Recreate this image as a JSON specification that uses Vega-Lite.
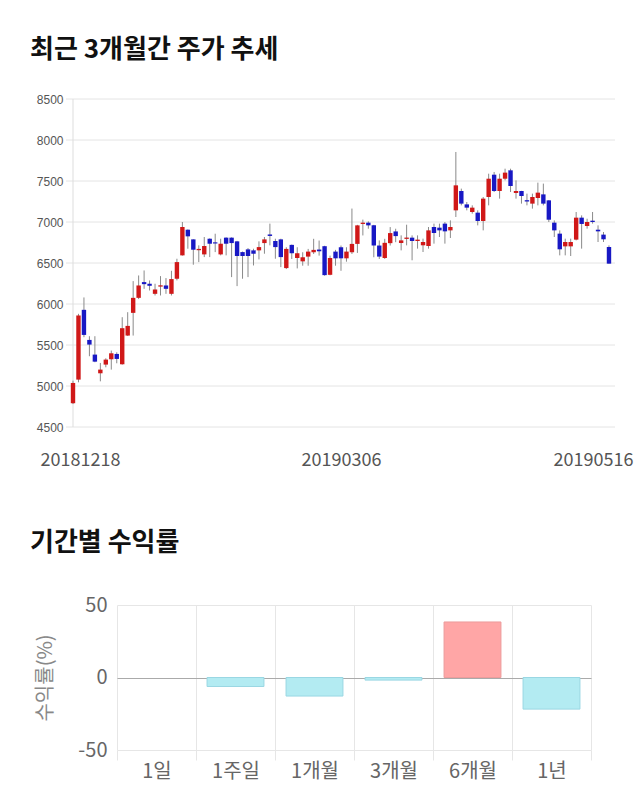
{
  "$schema": "https://vega.github.io/schema/vega-lite/v6.json",
  "background": "white",
  "padding": {"left": 30, "top": 37, "right": 0, "bottom": 0},
  "config": {"view": {"stroke": null}, "font": "Noto Sans CJK KR"},
  "spacing": 61,
  "columns": 1,
  "align": "none",
  "concat": [
    {
      "title": {"text": "최근 3개월간 주가 추세", "anchor": "start", "frame": "group", "dx": -87, "fontSize": 26, "fontWeight": "bold", "color": "#111111", "offset": 30},
      "width": 498,
      "height": 328,
      "data": {"values": [
        {"i":0,"o":4790,"h":5065,"l":4780,"c":5037},
        {"i":1,"o":5078,"h":5880,"l":5045,"c":5860},
        {"i":2,"o":5929,"h":6080,"l":5595,"c":5623},
        {"i":3,"o":5562,"h":5607,"l":5363,"c":5505},
        {"i":4,"o":5383,"h":5607,"l":5290,"c":5297},
        {"i":5,"o":5155,"h":5281,"l":5057,"c":5200},
        {"i":6,"o":5261,"h":5338,"l":5228,"c":5322},
        {"i":7,"o":5326,"h":5432,"l":5200,"c":5399},
        {"i":8,"o":5391,"h":5411,"l":5277,"c":5330},
        {"i":9,"o":5265,"h":5839,"l":5260,"c":5705},
        {"i":10,"o":5615,"h":5900,"l":5610,"c":5733},
        {"i":11,"o":5892,"h":6279,"l":5615,"c":6075},
        {"i":12,"o":6075,"h":6348,"l":6060,"c":6226},
        {"i":13,"o":6267,"h":6409,"l":6185,"c":6242},
        {"i":14,"o":6247,"h":6287,"l":6165,"c":6222},
        {"i":15,"o":6124,"h":6247,"l":6104,"c":6177},
        {"i":16,"o":6212,"h":6340,"l":6104,"c":6228},
        {"i":17,"o":6226,"h":6316,"l":6124,"c":6185},
        {"i":18,"o":6124,"h":6405,"l":6104,"c":6304},
        {"i":19,"o":6308,"h":6552,"l":6288,"c":6511},
        {"i":20,"o":6593,"h":7000,"l":6590,"c":6939},
        {"i":21,"o":6906,"h":6910,"l":6674,"c":6825},
        {"i":22,"o":6788,"h":6790,"l":6479,"c":6662},
        {"i":23,"o":6656,"h":6715,"l":6511,"c":6672},
        {"i":24,"o":6605,"h":6817,"l":6572,"c":6707},
        {"i":25,"o":6796,"h":6800,"l":6572,"c":6735},
        {"i":26,"o":6752,"h":6857,"l":6633,"c":6738},
        {"i":27,"o":6605,"h":6796,"l":6593,"c":6735},
        {"i":28,"o":6809,"h":6813,"l":6593,"c":6735},
        {"i":29,"o":6809,"h":6813,"l":6328,"c":6743},
        {"i":30,"o":6764,"h":6770,"l":6218,"c":6585},
        {"i":31,"o":6633,"h":6640,"l":6308,"c":6585},
        {"i":32,"o":6666,"h":6682,"l":6328,"c":6585},
        {"i":33,"o":6654,"h":6674,"l":6470,"c":6613},
        {"i":34,"o":6654,"h":6764,"l":6544,"c":6694},
        {"i":35,"o":6743,"h":6817,"l":6613,"c":6788},
        {"i":36,"o":6848,"h":6980,"l":6715,"c":6830},
        {"i":37,"o":6768,"h":6796,"l":6552,"c":6694},
        {"i":38,"o":6788,"h":6796,"l":6450,"c":6572},
        {"i":39,"o":6438,"h":6692,"l":6426,"c":6672},
        {"i":40,"o":6721,"h":6725,"l":6549,"c":6619},
        {"i":41,"o":6561,"h":6692,"l":6434,"c":6619},
        {"i":42,"o":6520,"h":6631,"l":6467,"c":6570},
        {"i":43,"o":6578,"h":6672,"l":6467,"c":6639},
        {"i":44,"o":6631,"h":6795,"l":6610,"c":6660},
        {"i":45,"o":6664,"h":6774,"l":6590,"c":6643},
        {"i":46,"o":6705,"h":6710,"l":6345,"c":6352},
        {"i":47,"o":6356,"h":6590,"l":6350,"c":6561},
        {"i":48,"o":6639,"h":6660,"l":6467,"c":6557},
        {"i":49,"o":6692,"h":6713,"l":6405,"c":6557},
        {"i":50,"o":6557,"h":6692,"l":6516,"c":6639},
        {"i":51,"o":6631,"h":7164,"l":6610,"c":6733},
        {"i":52,"o":6733,"h":6965,"l":6623,"c":6959},
        {"i":53,"o":6976,"h":7029,"l":6836,"c":6992},
        {"i":54,"o":6992,"h":7008,"l":6918,"c":6959},
        {"i":55,"o":6959,"h":6965,"l":6570,"c":6713},
        {"i":56,"o":6713,"h":6775,"l":6549,"c":6578},
        {"i":57,"o":6561,"h":6795,"l":6549,"c":6746},
        {"i":58,"o":6742,"h":6938,"l":6713,"c":6865},
        {"i":59,"o":6885,"h":6918,"l":6754,"c":6828},
        {"i":60,"o":6744,"h":6837,"l":6654,"c":6776},
        {"i":61,"o":6794,"h":6967,"l":6715,"c":6810},
        {"i":62,"o":6809,"h":6837,"l":6533,"c":6768},
        {"i":63,"o":6768,"h":6837,"l":6675,"c":6785},
        {"i":64,"o":6716,"h":6797,"l":6634,"c":6756},
        {"i":65,"o":6707,"h":6939,"l":6675,"c":6898},
        {"i":66,"o":6939,"h":6980,"l":6736,"c":6866},
        {"i":67,"o":6931,"h":6980,"l":6817,"c":6898},
        {"i":68,"o":6980,"h":7000,"l":6736,"c":6886},
        {"i":69,"o":6898,"h":7020,"l":6805,"c":6939},
        {"i":70,"o":7142,"h":7854,"l":7061,"c":7447},
        {"i":71,"o":7378,"h":7407,"l":7203,"c":7224},
        {"i":72,"o":7215,"h":7244,"l":7142,"c":7175},
        {"i":73,"o":7122,"h":7203,"l":7102,"c":7175},
        {"i":74,"o":7114,"h":7142,"l":6959,"c":7012},
        {"i":75,"o":7012,"h":7305,"l":6898,"c":7285},
        {"i":76,"o":7305,"h":7589,"l":7203,"c":7528},
        {"i":77,"o":7577,"h":7610,"l":7366,"c":7378},
        {"i":78,"o":7378,"h":7589,"l":7285,"c":7528},
        {"i":79,"o":7528,"h":7650,"l":7508,"c":7602},
        {"i":80,"o":7630,"h":7650,"l":7366,"c":7439},
        {"i":81,"o":7354,"h":7508,"l":7285,"c":7378},
        {"i":82,"o":7378,"h":7380,"l":7224,"c":7317},
        {"i":83,"o":7266,"h":7346,"l":7203,"c":7250},
        {"i":84,"o":7224,"h":7346,"l":7163,"c":7305},
        {"i":85,"o":7293,"h":7480,"l":7203,"c":7358},
        {"i":86,"o":7337,"h":7468,"l":7203,"c":7224},
        {"i":87,"o":7264,"h":7268,"l":7000,"c":7028},
        {"i":88,"o":6992,"h":7020,"l":6817,"c":6898},
        {"i":89,"o":6858,"h":6898,"l":6593,"c":6667},
        {"i":90,"o":6703,"h":6797,"l":6593,"c":6756},
        {"i":91,"o":6703,"h":6797,"l":6585,"c":6756},
        {"i":92,"o":6785,"h":7122,"l":6776,"c":7053},
        {"i":93,"o":7053,"h":7081,"l":6675,"c":6976},
        {"i":94,"o":6951,"h":7040,"l":6919,"c":7000},
        {"i":95,"o":7016,"h":7122,"l":6980,"c":7000},
        {"i":96,"o":6906,"h":6959,"l":6756,"c":6886},
        {"i":97,"o":6846,"h":6878,"l":6756,"c":6789},
        {"i":98,"o":6695,"h":6715,"l":6492,"c":6492}
      ]},
      "layer": [
        {
          "data": {"values": [{"g":4500},{"g":5000},{"g":5500},{"g":6000},{"g":6500},{"g":7000},{"g":7500},{"g":8000},{"g":8500}]},
          "mark": {"type": "rule", "color": "#e4e4e4", "strokeWidth": 1},
          "encoding": {
            "y": {"field": "g", "type": "quantitative"},
            "x": {"datum": -1.28, "type": "quantitative"},
            "x2": {"datum": 99.1}
          }
        },
        {
          "data": {"values": [{"i": 0}]},
          "mark": {"type": "rule", "color": "#dddddd", "strokeWidth": 1},
          "encoding": {"x": {"field": "i", "type": "quantitative"}}
        },
        {
          "mark": {"type": "rule", "color": "#8a8a8a", "strokeWidth": 1},
          "encoding": {
            "x": {
              "field": "i", "type": "quantitative",
              "scale": {"domain": [-1.28, 99.1], "range": [-51, 498], "padding": 0, "nice": false, "zero": false},
              "axis": {
                "values": [1.28, 49, 95.08],
                "labelExpr": "datum.value < 10 ? '20181218' : datum.value < 60 ? '20190306' : '20190516'",
                "grid": false, "ticks": false, "domain": false, "title": null,
                "labelFontSize": 18, "labelColor": "#555555", "labelPadding": 24,
                "labelFlush": false, "labelOverlap": false, "labelBound": false
              }
            },
            "y": {
              "field": "l", "type": "quantitative",
              "scale": {"domain": [4500, 8500], "nice": false, "zero": false},
              "axis": {
                "values": [4500, 5000, 5500, 6000, 6500, 7000, 7500, 8000, 8500],
                "format": "d", "grid": false, "offset": 51,
                "title": null, "domain": false, "ticks": false,
                "labelFont": "Liberation Sans", "labelFontSize": 12, "labelColor": "#555555", "labelPadding": 3
              }
            },
            "y2": {"field": "h"}
          }
        },
        {
          "mark": {"type": "bar", "width": 4.4},
          "encoding": {
            "x": {"field": "i", "type": "quantitative"},
            "y": {"field": "o", "type": "quantitative"},
            "y2": {"field": "c"},
            "color": {"condition": {"test": "datum.c >= datum.o", "value": "#d01818"}, "value": "#1818c4"}
          }
        }
      ]
    },
    {
      "title": {"text": "기간별 수익률", "anchor": "start", "frame": "group", "dx": -87, "fontSize": 26, "fontWeight": "bold", "color": "#111111", "offset": 39},
      "width": 474,
      "height": 145,
      "data": {"values": [
        {"p": "1일", "v": 0},
        {"p": "1주일", "v": -6.2},
        {"p": "1개월", "v": -12.8},
        {"p": "3개월", "v": -1.8},
        {"p": "6개월", "v": 38.3},
        {"p": "1년", "v": -21.8}
      ]},
      "mark": {"type": "bar", "width": {"band": 0.72}, "strokeWidth": 1},
      "encoding": {
        "x": {
          "field": "p", "type": "nominal", "sort": null,
          "scale": {"paddingInner": 0, "paddingOuter": 0},
          "axis": {
            "tickBand": "extent", "grid": true, "gridColor": "#e6e6e6",
            "tickColor": "#e6e6e6", "tickSize": 10, "domain": false,
            "labelAngle": 0, "labelFontSize": 20, "labelColor": "#666666", "labelPadding": 1,
            "title": null
          }
        },
        "y": {
          "field": "v", "type": "quantitative",
          "scale": {"domain": [-50, 50], "nice": false},
          "axis": {
            "values": [-50, 0, 50],
            "labelExpr": "replace(datum.label, '−', '-')",
            "gridColor": {"condition": {"test": "datum.value == 0", "value": "#aaaaaa"}, "value": "#e6e6e6"},
            "domain": false, "ticks": false,
            "labelFontSize": 20, "labelColor": "#666666", "labelPadding": 10,
            "title": "수익률(%)", "titleFontSize": 20, "titleColor": "#888888",
            "titleFontWeight": "normal", "titlePadding": 22
          }
        },
        "color": {"condition": {"test": "datum.v > 0", "value": "#ffa6a6"}, "value": "#b3ebf2"},
        "stroke": {"condition": [{"test": "datum.v == 0", "value": "transparent"}, {"test": "datum.v > 0", "value": "#ec9c9c"}], "value": "#9ad7e3"}
      }
    }
  ]
}
